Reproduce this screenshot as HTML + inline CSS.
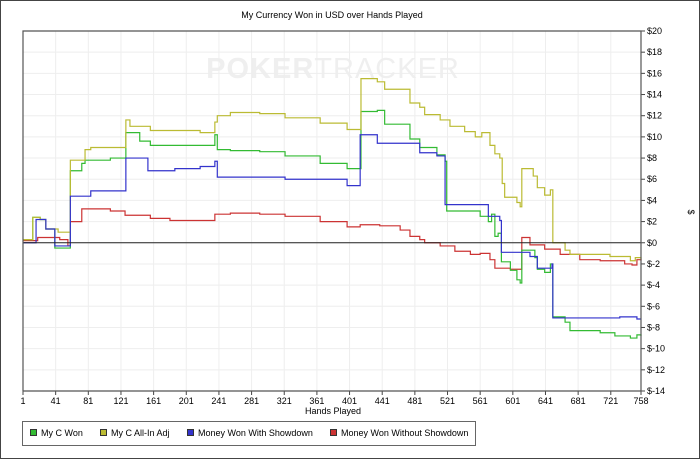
<!DOCTYPE html>
<html><head><meta charset="utf-8"><style>
body{margin:0;background:#fff;font-family:"Liberation Sans",sans-serif}
svg text{font-family:"Liberation Sans",sans-serif}
</style></head><body>
<svg id="c" width="700" height="459">
<rect x="0.5" y="0.5" width="699" height="458" fill="#fff" stroke="#444"/>
<text x="332" y="18" font-size="9" text-anchor="middle">My Currency Won in USD over Hands Played</text>
<text x="333" y="78" font-size="29" font-weight="bold" fill="#efefef" text-anchor="middle" letter-spacing="1">POKER<tspan font-weight="normal">TRACKER</tspan></text>
<g id="grid"></g><g id="series"></g><g id="axes"></g>
<text x="333" y="414" font-size="9" text-anchor="middle">Hands Played</text>
<text x="0" y="0" font-size="9" transform="translate(688,212) rotate(90)" text-anchor="middle">$</text>
<rect x="22.5" y="421.5" width="453" height="24" fill="#fff" stroke="#666"/>
<g id="legend"></g>
</svg>
<script>
const xTicks=[1,41,81,121,161,201,241,281,321,361,401,441,481,521,561,601,641,681,721,758];
const yTicks=[20,18,16,14,12,10,8,6,4,2,0,-2,-4,-6,-8,-10,-12,-14];
const seriesNames=["My C Won","My C All-In Adj","Money Won With Showdown","Money Won Without Showdown"];
const greenHands=[1,13,22,29,40,59,73,77,108,127,144,157,230,236,239,255,291,322,365,398,415,435,444,475,487,508,518,520,561,571,575,579,583,587,598,606,610,612,628,631,640,647,650,665,671,708,726,745,753,758];
const greenVals=[0.3,2.4,2.2,1.3,-0.5,6.8,7.5,7.8,8.0,10.4,9.6,9.2,9.2,10.2,8.8,8.7,8.6,8.2,7.5,7.0,12.4,12.5,11.2,9.8,9.0,8.3,7.7,3.0,2.5,2.0,2.7,0.6,0.9,-1.8,-2.6,-3.5,-3.8,-0.7,-1.4,-2.5,-2.8,-2.0,-7.0,-7.5,-8.3,-8.5,-8.8,-9.0,-8.7,-8.8];
const yellowHands=[1,13,22,29,44,56,59,77,84,127,132,157,218,236,239,255,291,322,365,398,415,435,444,475,487,493,512,524,542,555,563,573,579,585,588,591,606,610,612,626,631,640,647,650,665,671,720,745,751,758];
const yellowVals=[0.3,2.4,2.2,1.3,1.0,1.0,7.8,8.8,9.0,11.6,11.0,10.6,10.4,11.4,12.0,12.3,12.2,11.8,11.3,10.7,15.5,15.2,14.5,13.2,12.8,12.1,11.6,11.0,10.5,10.0,10.4,9.2,8.4,8.0,5.6,4.3,3.8,3.4,7.0,6.3,5.2,4.5,5.0,0,-0.7,-1.1,-1.3,-1.7,-1.4,-1.6];
const blueHands=[1,17,29,40,59,84,127,154,187,218,236,239,322,398,414,435,487,508,518,571,585,587,622,631,649,650,732,753,758];
const blueVals=[0,2.2,1.3,-0.3,4.4,4.9,8.0,6.8,7.0,7.2,7.7,6.2,6.0,5.4,10.2,9.4,8.5,8.2,3.6,2.5,2.1,-0.9,-1.3,-2.4,-2.0,-7.1,-7.0,-7.2,-7.2];
const redHands=[1,19,46,56,59,73,108,126,157,181,230,236,255,291,322,365,398,414,438,463,475,487,493,512,530,549,561,573,579,598,612,622,640,659,683,708,738,747,753,758];
const redVals=[0.2,0.5,0.3,-0.3,2.0,3.2,3.0,2.6,2.3,2.1,2.1,2.7,2.8,2.7,2.5,2.0,1.5,1.7,1.6,1.2,0.6,0.3,0,-0.3,-0.8,-1.1,-1.0,-1.6,-2.4,-2.5,0.5,-0.2,-0.6,-1.1,-1.6,-1.7,-2.0,-2.1,-1.6,-1.7];
const colors=["#33bb33","#bbbb33","#3333cc","#cc3333"];
const L=23,R=641,T=31,B=391,xMin=1,xMax=758,yMin=-14,yMax=20;
const X=h=>L+(h-xMin)/(xMax-xMin)*(R-L);
const Y=v=>B-(v-yMin)/(yMax-yMin)*(B-T);
const NS="http://www.w3.org/2000/svg";
function mk(t,a,p){const e=document.createElementNS(NS,t);for(const k in a)e.setAttribute(k,a[k]);p.appendChild(e);return e;}
const grid=document.getElementById('grid'),axes=document.getElementById('axes'),ser=document.getElementById('series'),leg=document.getElementById('legend');
xTicks.forEach(t=>{const g=mk('line',{x1:X(t),x2:X(t),y1:T,y2:B,stroke:'#eeeeee'},grid);


const tk=mk('line',{x1:X(t),x2:X(t),y1:B,y2:B+4,stroke:'#444'},axes);


const tx=mk('text',{x:X(t),y:B+13,'font-size':9,'text-anchor':'middle'},axes);tx.textContent=t;

});
yTicks.forEach(t=>{const g=mk('line',{x1:L,x2:R,y1:Y(t),y2:Y(t),stroke:'#eeeeee'},grid);


const tk=mk('line',{x1:R,x2:R+4,y1:Y(t),y2:Y(t),stroke:'#444'},axes);


const tx=mk('text',{x:R+6,y:Y(t)+3,'font-size':9},axes);tx.textContent=(t<0?'$-'+(-t):'$'+t);

});
const zl=mk('line',{x1:L,x2:R,y1:Y(0),y2:Y(0),stroke:'#222'},axes);


const fr=mk('path',{d:`M${L},${B}V${T}H${R}V${B}H${L}`,fill:'none',stroke:'#555','stroke-width':1.2},axes);


const all=[[greenHands,greenVals],[yellowHands,yellowVals],[blueHands,blueVals],[redHands,redVals]];
const order=[3,0,1,2];
const snames=['series-my-c-won','series-all-in-adj','series-with-showdown','series-without-showdown'];
order.forEach(i=>{const [h,v]=all[i];let d=`M${X(h[0])},${Y(v[0])}`;
for(let k=1;k<h.length;k++){d+=`H${X(h[k])}V${Y(v[k])}`;}
const p=mk('path',{d:d,fill:'none',stroke:colors[i],'stroke-width':1.2},ser);

});
const lx=[30,100,187,330];
seriesNames.forEach((n,i)=>{const r=mk('rect',{x:lx[i]+0.5,y:429.5,width:6,height:6,fill:colors[i],stroke:'#333'},leg);


const t=mk('text',{x:lx[i]+11,y:436,'font-size':9},leg);t.textContent=n;

});
</script>
</body></html>
